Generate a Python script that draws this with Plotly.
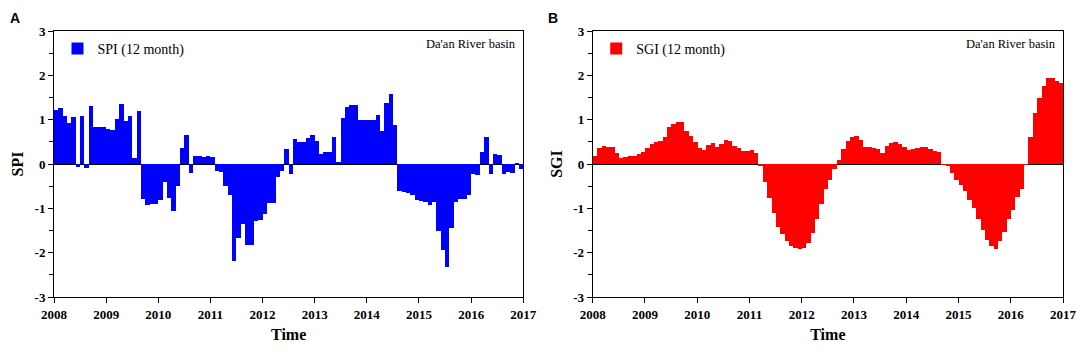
import plotly.graph_objects as go

# ---------------- data ----------------
start_year = 2008
n_months = 108

spi_12 = [
    1.22, 1.26, 1.09, 0.92, 1.07, -0.06, 1.08, -0.08, 1.30, 0.83, 0.83, 0.83,
    0.80, 0.77, 1.01, 1.35, 0.98, 1.09, 0.13, 1.20, -0.80, -0.92, -0.91, -0.91,
    -0.81, -0.41, -0.77, -1.07, -0.50, 0.35, 0.65, -0.21, 0.18, 0.18, 0.15, 0.17,
    0.15, -0.15, -0.17, -0.49, -0.70, -2.19, -1.68, -1.35, -1.83, -1.83, -1.29, -1.27,
    -1.12, -0.89, -0.88, -0.30, -0.15, 0.34, -0.23, 0.56, 0.50, 0.50, 0.59, 0.65,
    0.51, 0.23, 0.28, 0.28, 0.62, 0.05, 1.03, 1.29, 1.33, 1.33, 1.00, 0.99,
    0.99, 0.99, 1.11, 0.75, 1.37, 1.59, 0.88, -0.62, -0.64, -0.66, -0.70, -0.81,
    -0.83, -0.86, -0.92, -0.86, -1.50, -1.94, -2.33, -1.45, -0.86, -0.80, -0.80, -0.71,
    -0.23, -0.25, 0.28, 0.60, -0.23, 0.23, 0.20, -0.23, -0.17, -0.20, 0.02, -0.11,
]

sgi_12 = [
    0.19, 0.35, 0.41, 0.39, 0.39, 0.24, 0.14, 0.15, 0.17, 0.17, 0.23, 0.26,
    0.36, 0.45, 0.49, 0.51, 0.60, 0.83, 0.90, 0.94, 0.95, 0.75, 0.64, 0.49,
    0.36, 0.32, 0.43, 0.47, 0.39, 0.45, 0.54, 0.53, 0.41, 0.36, 0.29, 0.30,
    0.32, 0.24, -0.05, -0.40, -0.77, -1.11, -1.41, -1.58, -1.73, -1.86, -1.90, -1.92,
    -1.90, -1.79, -1.56, -1.23, -0.90, -0.56, -0.36, -0.11, 0.08, 0.34, 0.53, 0.62,
    0.64, 0.54, 0.39, 0.38, 0.35, 0.34, 0.24, 0.41, 0.47, 0.49, 0.45, 0.38,
    0.32, 0.34, 0.36, 0.39, 0.38, 0.34, 0.30, 0.26, -0.02, -0.05, -0.20, -0.36,
    -0.47, -0.62, -0.81, -1.00, -1.25, -1.49, -1.71, -1.85, -1.92, -1.73, -1.53, -1.25,
    -1.04, -0.74, -0.57, -0.02, 0.62, 1.16, 1.50, 1.76, 1.95, 1.93, 1.88, 1.82, 1.71,
][:n_months]

year_ticks = [2008, 2009, 2010, 2011, 2012, 2013, 2014, 2015, 2016, 2017]
year_labels = ["2008", "2009", "2010", "2011", "2012", "2013", "2014", "2015", "2016", "2017"]
y_ticks = [3, 2, 1, 0, -1, -2, -3]
y_labels = ["3", "2", "1", "0", "-1", "-2", "-3"]

months_x = [start_year + (i + 0.5) / 12 for i in range(n_months)]

# ---------------- figure ----------------
# The page body has an 8px default margin, so the figure is 8px smaller
# and all reference pixel positions are shifted by OFF.
OFF = 8
W, H = 1084 - OFF, 353 - OFF
ML, MR, MT, MB = 53.5 - OFF, 21, 31 - OFF, 56
PW, PH = W - ML - MR, H - MT - MB
serif = "Liberation Serif, Times New Roman, serif"

fig = go.Figure()
fig.add_trace(go.Bar(x=months_x, y=spi_12, width=1 / 12, name="SPI (12 month)",
                     marker=dict(color="#0000FF", line=dict(width=0)),
                     xaxis="x", yaxis="y", legend="legend"))
fig.add_trace(go.Bar(x=months_x, y=sgi_12, width=1 / 12, name="SGI (12 month)",
                     marker=dict(color="#FF0000", line=dict(width=0)),
                     xaxis="x2", yaxis="y2", legend="legend2"))

def px_x(p):
    return (p - OFF - ML) / PW

def px_y(p):
    return (H - MB - (p - OFF)) / PH

xd1 = [0, px_x(523)]
xd2 = [px_x(592.5), 1]
yd = [0, 1]

axis_common = dict(
    showline=True, linecolor="black", linewidth=1, mirror=True,
    ticks="outside", ticklen=5, tickwidth=1, tickcolor="black",
    showgrid=False, automargin=False,
    tickfont=dict(family=serif, size=13, color="black", weight="bold"),
)

xaxis_common = dict(axis_common, range=[2008, 2017], tickmode="array",
                    tickvals=year_ticks, ticktext=year_labels, zeroline=False,
                    title=dict(text="Time", font=dict(family=serif, size=16, color="black", weight="bold"),
                               standoff=8))
yaxis_common = dict(axis_common, range=[-3, 3], tickmode="array",
                    tickvals=y_ticks, ticktext=y_labels,
                    minor=dict(tickvals=[2.5, 1.5, 0.5, -0.5, -1.5, -2.5], ticks="outside",
                               ticklen=4, tickcolor="black", tickwidth=1),
                    zeroline=True, zerolinecolor="black", zerolinewidth=1)

panel_font = dict(family="Liberation Sans, Arial, sans-serif", size=14, color="black", weight="bold")

fig.update_layout(
    width=W, height=H,
    margin=dict(l=ML, r=MR, t=MT, b=MB, autoexpand=False),
    paper_bgcolor="white", plot_bgcolor="white",
    bargap=0,
    xaxis=dict(xaxis_common, domain=xd1, anchor="y"),
    yaxis=dict(yaxis_common, domain=yd, anchor="x",
               title=dict(text="SPI", font=dict(family=serif, size=16, color="black", weight="bold"),
                          standoff=6)),
    xaxis2=dict(xaxis_common, domain=xd2, anchor="y2"),
    yaxis2=dict(yaxis_common, domain=yd, anchor="x2",
                title=dict(text="SGI", font=dict(family=serif, size=16, color="black", weight="bold"),
                           standoff=6)),
    legend=dict(x=px_x(57), y=px_y(33), xanchor="left", yanchor="top",
                bgcolor="rgba(0,0,0,0)", font=dict(family=serif, size=14, color="black"),
                itemwidth=30, tracegroupgap=0),
    legend2=dict(x=px_x(596), y=px_y(33), xanchor="left", yanchor="top",
                 bgcolor="rgba(0,0,0,0)", font=dict(family=serif, size=14, color="black"),
                 itemwidth=30, tracegroupgap=0),
    showlegend=True,
    annotations=[
        dict(text="A", x=px_x(8), y=px_y(OFF + 1), xref="paper", yref="paper",
             xanchor="left", yanchor="top", showarrow=False, borderpad=0,
             font=panel_font),
        dict(text="B", x=px_x(547), y=px_y(OFF + 1), xref="paper", yref="paper",
             xanchor="left", yanchor="top", showarrow=False, borderpad=0,
             font=panel_font),
        dict(text="Da'an River basin", x=px_x(518), y=px_y(44), xref="paper", yref="paper",
             xanchor="right", yanchor="middle", showarrow=False,
             font=dict(family=serif, size=12.5, color="black")),
        dict(text="Da'an River basin", x=px_x(1058), y=px_y(44), xref="paper", yref="paper",
             xanchor="right", yanchor="middle", showarrow=False,
             font=dict(family=serif, size=12.5, color="black")),
    ],
)

fig.write_html("out.html")
